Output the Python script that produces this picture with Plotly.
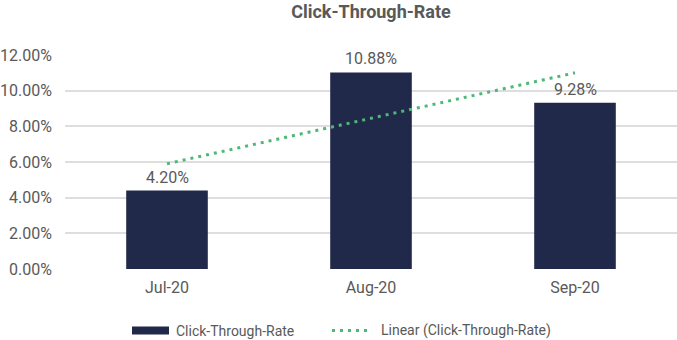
import plotly.graph_objects as go

categories = ["Jul-20", "Aug-20", "Sep-20"]
ctr_values = [4.40, 11.02, 9.32]          # bar heights as drawn in the reference
ctr_labels = ["4.20%", "10.88%", "9.28%"]  # data labels as printed in the reference
trend_categories = ["Jul-20", "Sep-20"]
trend_values = [5.9, 11.0]
tick_vals = [0, 2, 4, 6, 8, 10, 12]
tick_text = ["0.00%", "2.00%", "4.00%", "6.00%", "8.00%", "10.00%", "12.00%"]

NAVY = "#21294B"
GREEN = "#4DB878"
GRAY = "#595959"
FONT = "Roboto"

fig = go.Figure()
fig.add_trace(go.Bar(
    x=categories, y=ctr_values,
    marker=dict(color=NAVY, line=dict(width=0)),
    name="Click-Through-Rate",
))
fig.add_trace(go.Scatter(
    x=trend_categories, y=trend_values, mode="lines",
    line=dict(color=GREEN, width=3, dash="3px,5px"),
    name="Linear (Click-Through-Rate)",
))

for c, v, t in zip(categories, ctr_values, ctr_labels):
    fig.add_annotation(x=c, y=v, text=t, showarrow=False, xanchor="center",
                       yanchor="bottom", yshift=2,
                       font=dict(family=FONT, size=16, color=GRAY))

fig.update_layout(
    width=677, height=340,
    margin=dict(l=65, r=0, t=55, b=71),
    paper_bgcolor="white", plot_bgcolor="white",
    showlegend=False,
    bargap=0.6,
    font=dict(family=FONT, color=GRAY),
    title=dict(text="<b>Click-Through-Rate</b>", x=0.5, xref="paper", xanchor="center",
               y=0.965, yanchor="middle", font=dict(family=FONT, size=18, color=GRAY)),
    xaxis=dict(showgrid=False, showline=False, zeroline=False,
               tickfont=dict(family=FONT, size=16, color=GRAY), ticks="",
               ticklabelstandoff=7),
    yaxis=dict(range=[0, 12], tickvals=tick_vals, ticktext=tick_text,
               showgrid=True, gridcolor="#DEDEDE", gridwidth=2,
               zeroline=False, showline=False,
               tickfont=dict(family=FONT, size=16, color=GRAY), ticks="",
               ticklabelstandoff=12),
)

# manual legend (wide bar swatch + dotted line, as in the reference)
ly = -(330.5 - 269) / 214
fig.add_shape(type="rect", xref="paper", yref="paper",
              x0=(132 - 65) / 612, x1=(169 - 65) / 612,
              y0=-(326.5 - 269) / 214, y1=-(334.5 - 269) / 214,
              fillcolor=NAVY, line=dict(width=0))
fig.add_annotation(xref="paper", yref="paper", x=(174 - 65) / 612, y=ly,
                   text="Click-Through-Rate", showarrow=False, xanchor="left", yanchor="middle",
                   font=dict(family=FONT, size=14, color=GRAY))
fig.add_shape(type="line", xref="paper", yref="paper",
              x0=(332 - 65) / 612, x1=(367 - 65) / 612, y0=ly, y1=ly,
              line=dict(color=GREEN, width=3, dash="3px,5px"))
fig.add_annotation(xref="paper", yref="paper", x=(379 - 65) / 612, y=ly,
                   text="Linear (Click-Through-Rate)", showarrow=False, xanchor="left", yanchor="middle",
                   font=dict(family=FONT, size=14, color=GRAY))

fig.write_html("out.html")
